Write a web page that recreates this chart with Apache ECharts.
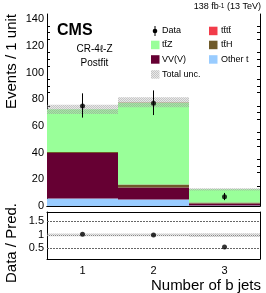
<!DOCTYPE html>
<html><head><meta charset="utf-8">
<script src="https://cdn.jsdelivr.net/npm/echarts@6/dist/echarts.min.js"></script>
<style>html,body{margin:0;padding:0;background:#fff}#c{width:266px;height:293px}</style>
</head><body><div id="c"></div>
<script>
// ---- data ----
const categories = ['1', '2', '3'];
const otherT = [5.6, 4.9, 0.3];
const vvv = [34.2, 9.0, 1.6];
const ttH = [0.7, 2.2, 0.7];
const ttZ = [32.0, 61.6, 9.9];
const tttt = [0.0, 0.1, 0.1];
const uncLow = [69.0, 74.0, 11.6];
const uncHigh = [76.0, 81.5, 13.4];
const dataVals = [75, 77, 7];
const dataLow = [66.3, 68.2, 4.4];
const dataHigh = [84.5, 86.7, 9.8];
const ratioVals = [1.02, 0.99, 0.55];
const ratioUncLow = [0.95, 0.95, 0.92];
const ratioUncHigh = [1.05, 1.05, 1.06];
const ratioRefLines = [0.5, 1.5];

const FONT = '"Liberation Sans", Arial, Helvetica, sans-serif';
const C = { ttZ: '#99ff99', vvv: '#660033', ttH: '#6f5a2a', other: '#99ccff', tttt: '#f23c4a' };

// hatch pattern for uncertainty
const pc = document.createElement('canvas');
pc.width = 2; pc.height = 2;
const pctx = pc.getContext('2d');
pctx.fillStyle = 'rgba(150,150,150,0.55)';
pctx.fillRect(0, 0, 1, 1); pctx.fillRect(1, 1, 1, 1);
pctx.fillStyle = 'rgba(190,190,190,0.35)';
pctx.fillRect(1, 0, 1, 1); pctx.fillRect(0, 1, 1, 1);
const hatch = { image: pc, repeat: 'repeat' };

const chart = echarts.init(document.getElementById('c'), null, { renderer: 'canvas' });

function bandRender(params, api) {
  const i = api.value(0);
  const lo = api.coord([i, api.value(1)]);
  const hi = api.coord([i, api.value(2)]);
  const w = api.size([1, 0])[0];
  return { type: 'rect', shape: { x: lo[0] - w / 2, y: hi[1], width: w, height: lo[1] - hi[1] }, style: { fill: hatch } };
}
function errRender(params, api) {
  const i = api.value(0);
  const lo = api.coord([i, api.value(1)]);
  const hi = api.coord([i, api.value(2)]);
  return { type: 'line', shape: { x1: lo[0], y1: lo[1], x2: hi[0], y2: hi[1] }, style: { stroke: '#000', lineWidth: 1 } };
}

const axLine = { lineStyle: { color: '#000', width: 1 } };
const lbl = { color: '#000', fontSize: 11, fontFamily: FONT };

function barSeries(name, arr, color) {
  return { name, type: 'bar', stack: 'bkg', xAxisIndex: 0, yAxisIndex: 0, barWidth: '100%', barGap: '-100%',
    data: arr, itemStyle: { color }, silent: true };
}

const option = {
  animation: false,
  grid: [
    { left: 47, top: 14, width: 213, height: 192 },
    { left: 47, top: 212, width: 213, height: 47 }
  ],
  xAxis: [
    { gridIndex: 0, type: 'category', data: categories, position: 'bottom', axisLine: axLine,
      axisTick: { inside: true, alignWithLabel: true, length: 5, lineStyle: { color: '#000' } }, axisLabel: { show: false } },
    { gridIndex: 0, type: 'category', data: categories, position: 'top', axisLine: axLine,
      axisTick: { inside: true, alignWithLabel: true, length: 5, lineStyle: { color: '#000' } }, axisLabel: { show: false } },
    { gridIndex: 1, type: 'category', data: categories, position: 'bottom', axisLine: axLine,
      axisTick: { inside: true, alignWithLabel: true, length: 4, lineStyle: { color: '#000' } }, axisLabel: Object.assign({ margin: 6 }, lbl) },
    { gridIndex: 1, type: 'category', data: categories, position: 'top', axisLine: axLine,
      axisTick: { inside: true, alignWithLabel: true, length: 4, lineStyle: { color: '#000' } }, axisLabel: { show: false } }
  ],
  yAxis: [
    { gridIndex: 0, type: 'value', min: 0, max: 144, interval: 20, position: 'left', axisLine: Object.assign({ show: true }, axLine),
      axisTick: { inside: true, length: 6, lineStyle: { color: '#000' } },
      minorTick: { show: true, splitNumber: 4, length: 3, lineStyle: { color: '#000' } },
      splitLine: { show: false },
      axisLabel: Object.assign({ margin: 3, formatter: v => (Math.abs(v % 20) < 1e-6 ? String(v) : '') }, lbl) },
    { gridIndex: 0, type: 'value', min: 0, max: 144, interval: 20, position: 'right', axisLine: Object.assign({ show: true }, axLine),
      axisTick: { inside: true, length: 6, lineStyle: { color: '#000' } },
      minorTick: { show: true, splitNumber: 4, length: 3, lineStyle: { color: '#000' } },
      splitLine: { show: false }, axisLabel: { show: false } },
    { gridIndex: 1, type: 'value', min: 0.1, max: 1.85, interval: 0.1, position: 'left', axisLine: Object.assign({ show: true }, axLine),
      axisTick: { inside: true, length: 3, lineStyle: { color: '#000' } }, splitLine: { show: false },
      axisLabel: Object.assign({ margin: 3, formatter: v => {
        const r = Math.round(v * 10) / 10;
        return (r === 0.5 || r === 1 || r === 1.5) ? String(r) : '';
      } }, lbl) },
    { gridIndex: 1, type: 'value', min: 0.1, max: 1.85, interval: 0.1, position: 'right', axisLine: Object.assign({ show: true }, axLine),
      axisTick: { inside: true, length: 3, lineStyle: { color: '#000' } }, splitLine: { show: false }, axisLabel: { show: false } }
  ],
  series: [
    barSeries('Other t', otherT, C.other),
    barSeries('VV(V)', vvv, C.vvv),
    barSeries('ttH', ttH, C.ttH),
    barSeries('ttZ', ttZ, C.ttZ),
    barSeries('tttt', tttt, C.tttt),
    { name: 'Total unc.', type: 'custom', xAxisIndex: 0, yAxisIndex: 0, renderItem: bandRender, silent: true,
      data: categories.map((c, i) => [i, uncLow[i], uncHigh[i]]), z: 3 },
    { name: 'Data err', type: 'custom', xAxisIndex: 0, yAxisIndex: 0, renderItem: errRender, silent: true,
      data: categories.map((c, i) => [i, dataLow[i], dataHigh[i]]), z: 4 },
    { name: 'Data', type: 'scatter', xAxisIndex: 0, yAxisIndex: 0, symbol: 'circle', symbolSize: 5,
      itemStyle: { color: '#000' }, data: categories.map((c, i) => [i, dataVals[i]]), z: 5, silent: true },
    { name: 'Ratio unc', type: 'custom', xAxisIndex: 2, yAxisIndex: 2, renderItem: bandRender, silent: true,
      data: categories.map((c, i) => [i, ratioUncLow[i], ratioUncHigh[i]]), z: 3 },
    { name: 'Ratio', type: 'scatter', xAxisIndex: 2, yAxisIndex: 2, symbol: 'circle', symbolSize: 5,
      itemStyle: { color: '#000' }, data: categories.map((c, i) => [i, ratioVals[i]]), z: 5, silent: true,
      markLine: { silent: true, symbol: 'none', label: { show: false }, animation: false,
        data: [
          ...ratioRefLines.map(v => ({ yAxis: v, lineStyle: { type: [2, 1], color: '#666', width: 1 } })),
          { yAxis: 1, lineStyle: { type: 'dotted', color: '#888', width: 1 } }
        ] } }
  ],
  graphic: [
    { type: 'text', style: { x: 261, y: 7, align: 'right', verticalAlign: 'middle',
      text: '{a|138 fb}{s|-1}{a| (13 TeV)}',
      rich: { a: { fontSize: 9, fontFamily: FONT, fill: '#000', verticalAlign: 'bottom' },
              s: { fontSize: 6.5, fontFamily: FONT, fill: '#000', verticalAlign: 'top' } } } },
    { type: 'text', style: { x: 57, y: 31, align: 'left', verticalAlign: 'middle', text: 'CMS',
      font: 'bold 16px ' + FONT, fill: '#000' } },
    { type: 'text', style: { x: 94.5, y: 49, align: 'center', verticalAlign: 'middle', text: 'CR-4ℓ-Z',
      font: '10px ' + FONT, fill: '#000' } },
    { type: 'text', style: { x: 94.5, y: 63, align: 'center', verticalAlign: 'middle', text: 'Postfit',
      font: '10px ' + FONT, fill: '#000' } },
    { type: 'text', x: 12, y: 14, rotation: Math.PI / 2, style: { x: 0, y: 0, align: 'right', verticalAlign: 'middle',
      text: 'Events / 1 unit', font: '15px ' + FONT, fill: '#000' } },
    { type: 'text', x: 12, y: 243, rotation: Math.PI / 2, style: { x: 0, y: 0, align: 'center', verticalAlign: 'middle',
      text: 'Data / Pred.', font: '15px ' + FONT, fill: '#000' } },
    { type: 'text', style: { x: 261, y: 286, align: 'right', verticalAlign: 'middle', text: 'Number of b jets',
      font: '15px ' + FONT, fill: '#000' } },
    // legend
    { type: 'line', shape: { x1: 155, y1: 26, x2: 155, y2: 36 }, style: { stroke: '#000', lineWidth: 1 } },
    { type: 'circle', shape: { cx: 155, cy: 31, r: 2.3 }, style: { fill: '#000' } },
    { type: 'text', style: { x: 162, y: 31, verticalAlign: 'middle', text: 'Data', font: '9px ' + FONT, fill: '#000' } },
    { type: 'rect', shape: { x: 151, y: 40.7, width: 8.5, height: 8.5 }, style: { fill: C.ttZ } },
    { type: 'text', style: { x: 162, y: 45, verticalAlign: 'middle', text: 't\u0074\u0304Z', font: '9px ' + FONT, fill: '#000' } },
    { type: 'rect', shape: { x: 151, y: 55.2, width: 8.5, height: 8.5 }, style: { fill: C.vvv } },
    { type: 'text', style: { x: 162, y: 59.5, verticalAlign: 'middle', text: 'VV(V)', font: '9px ' + FONT, fill: '#000' } },
    { type: 'rect', shape: { x: 151, y: 70.2, width: 8.5, height: 8.5 }, style: { fill: hatch } },
    { type: 'text', style: { x: 162, y: 74.5, verticalAlign: 'middle', text: 'Total unc.', font: '9px ' + FONT, fill: '#000' } },
    { type: 'rect', shape: { x: 209, y: 26.7, width: 8.5, height: 8.5 }, style: { fill: C.tttt } },
    { type: 'text', style: { x: 221, y: 31, verticalAlign: 'middle', text: 't\u0074\u0304t\u0074\u0304', font: '9px ' + FONT, fill: '#000' } },
    { type: 'rect', shape: { x: 209, y: 40.7, width: 8.5, height: 8.5 }, style: { fill: C.ttH } },
    { type: 'text', style: { x: 221, y: 45, verticalAlign: 'middle', text: 't\u0074\u0304H', font: '9px ' + FONT, fill: '#000' } },
    { type: 'rect', shape: { x: 209, y: 55.2, width: 8.5, height: 8.5 }, style: { fill: C.other } },
    { type: 'text', style: { x: 221, y: 59.5, verticalAlign: 'middle', text: 'Other t', font: '9px ' + FONT, fill: '#000' } }
  ]
};
chart.setOption(option);
</script>
</body></html>
